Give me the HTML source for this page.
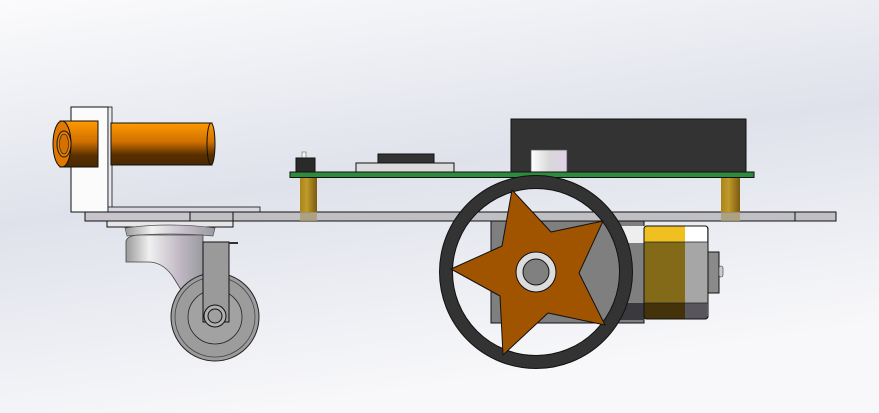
<!DOCTYPE html>
<html><head><meta charset="utf-8"><style>html,body{margin:0;padding:0;width:879px;height:413px;overflow:hidden}svg{display:block}</style></head>
<body>
<svg width="879" height="413" viewBox="0 0 879 413" xmlns="http://www.w3.org/2000/svg">
<defs>
<linearGradient id="bg" x1="0" y1="0" x2="0.3" y2="1">
<stop offset="0" stop-color="#fbfbfc"/><stop offset="0.5" stop-color="#dfe2eb"/><stop offset="1" stop-color="#f8f8fa"/></linearGradient>
<linearGradient id="org" x1="0" y1="0" x2="0" y2="1">
<stop offset="0" stop-color="#ff9a00"/><stop offset="0.45" stop-color="#d07000"/><stop offset="0.75" stop-color="#5a3000"/><stop offset="1" stop-color="#4a2800"/></linearGradient>
<linearGradient id="gold" x1="0" y1="0" x2="1" y2="0">
<stop offset="0" stop-color="#a8841a"/><stop offset="0.4" stop-color="#c09a2a"/><stop offset="1" stop-color="#7a5a10"/></linearGradient>
<linearGradient id="met" x1="0" y1="0" x2="1" y2="0">
<stop offset="0" stop-color="#9a9a9a"/><stop offset="0.3" stop-color="#f0f0f0"/><stop offset="0.7" stop-color="#c0b8c4"/><stop offset="1" stop-color="#9a9aa0"/></linearGradient>
<linearGradient id="wcyl" x1="0" y1="0" x2="1" y2="0">
<stop offset="0" stop-color="#ffffff"/><stop offset="0.5" stop-color="#d8d8d8"/><stop offset="1" stop-color="#e0d0e8"/></linearGradient>
</defs>
<rect width="879" height="413" fill="url(#bg)"/>

<rect x="71" y="107" width="37" height="105" fill="#fbfbfb" stroke="#111" stroke-width="1"/>
<rect x="108" y="107" width="4" height="105" fill="#e8e8ee" stroke="#111" stroke-width="0.8"/>
<rect x="108" y="207" width="152" height="5" fill="#d8d6de" stroke="#111" stroke-width="0.8"/>
<rect x="111" y="123" width="101" height="42" fill="url(#org)" stroke="#111"/>
<ellipse cx="211" cy="144" rx="4" ry="21" fill="url(#org)" stroke="#111"/>
<rect x="60" y="121" width="38" height="46" fill="url(#org)" stroke="#111"/>
<ellipse cx="62" cy="144" rx="9" ry="23" fill="#e07800" stroke="#111"/>
<ellipse cx="64" cy="144" rx="7" ry="13" fill="#e88400" stroke="#111"/>
<ellipse cx="64" cy="144" rx="4.5" ry="10" fill="#d87000" stroke="#222" stroke-width="0.7"/>

<rect x="85" y="212" width="751" height="9" fill="#c0c0c4" stroke="#111"/>
<line x1="190" y1="212" x2="190" y2="221" stroke="#111"/>
<line x1="233" y1="212" x2="233" y2="221" stroke="#111"/>
<line x1="795" y1="212" x2="795" y2="221" stroke="#111"/>
<rect x="85" y="212" width="105" height="9" fill="#c8c4cc" stroke="#111"/>

<rect x="300" y="177" width="17" height="35" fill="url(#gold)"/>
<rect x="300" y="212" width="17" height="9" fill="#a89870" opacity="0.8"/>
<rect x="721" y="177" width="19" height="35" fill="url(#gold)"/>
<rect x="721" y="212" width="19" height="9" fill="#a89870" opacity="0.8"/>

<rect x="107" y="221" width="126" height="6" fill="#e6e6e8" stroke="#111"/>
<path d="M125,228 Q170,222 215,228 L213,236 Q170,232 127,236 Z" fill="url(#met)" stroke="#555" stroke-width="0.7"/>
<path d="M126,241 Q128,235 140,235 L203,235 L203,320 Q190,305 175,280 Q165,263 150,262 L126,262 Z" fill="url(#met)" stroke="#444" stroke-width="0.8"/>
<circle cx="215" cy="317" r="44" fill="#9c9c9c" stroke="#222"/>
<circle cx="215" cy="317" r="40" fill="none" stroke="#444" stroke-width="0.8"/>
<circle cx="215" cy="317" r="27" fill="#a2a2a2" stroke="#222" stroke-width="0.8"/>
<rect x="203" y="242" width="26" height="80" fill="#9a9a9a" stroke="#111"/>
<line x1="229" y1="243" x2="238" y2="243" stroke="#333" stroke-width="2"/>
<circle cx="215" cy="316" r="11" fill="#b0b0b0" stroke="#111"/>
<circle cx="215" cy="316" r="7" fill="#a0a0a0" stroke="#111"/>

<rect x="511" y="119" width="235" height="54" fill="#333333" stroke="#111"/>
<rect x="531" y="150" width="36" height="23" fill="url(#wcyl)" stroke="#555" stroke-width="0.7"/>
<rect x="302" y="152" width="4" height="7" fill="#f4f4f4" stroke="#666" stroke-width="0.6"/>
<rect x="296" y="158" width="19" height="14" fill="#2a2a2a" stroke="#111"/>
<rect x="378" y="154" width="56" height="9" fill="#333" stroke="#111"/>
<rect x="356" y="163" width="98" height="9" fill="#dcdcdc" stroke="#111"/>
<rect x="290" y="172" width="464" height="5.5" fill="#2e8a3c" stroke="#111"/>

<rect x="491" y="221" width="153" height="102" fill="#7f7f7f" stroke="#111"/>
<rect x="614" y="226" width="30" height="17" fill="#eeeeee"/>
<rect x="614" y="303" width="30" height="17" fill="#3a3a3e"/>
<rect x="644" y="226" width="64" height="93" rx="3" fill="#a6a6a6" stroke="#111"/>
<rect x="644" y="226" width="41" height="16" fill="#f0c020"/>
<rect x="685" y="226" width="22" height="16" fill="#ffffff"/>
<rect x="644" y="242" width="41" height="61" fill="#826a18"/>
<rect x="644" y="303" width="41" height="16" fill="#44330a"/>
<rect x="685" y="303" width="22" height="16" fill="#58565c"/>
<rect x="644" y="226" width="64" height="93" rx="3" fill="none" stroke="#111"/>
<line x1="644" y1="242" x2="708" y2="242" stroke="#222" stroke-width="0.8"/>
<line x1="644" y1="303" x2="708" y2="303" stroke="#222" stroke-width="0.8"/>
<rect x="708" y="252" width="11" height="41" fill="#8a8a8a" stroke="#111"/>
<rect x="719" y="266" width="4" height="11" rx="2" fill="#cccccc" stroke="#333" stroke-width="0.6"/>

<circle cx="536" cy="272" r="90" fill="none" stroke="#333" stroke-width="13"/>
<circle cx="536" cy="272" r="96.5" fill="none" stroke="#111" stroke-width="1"/>
<circle cx="536" cy="272" r="83.5" fill="none" stroke="#111" stroke-width="1"/>
<polygon points="512,190 551,232 603,221 579,273 605,325 548,313 503,355 500,296 451,269 502,246" fill="#a05400" stroke="#111" stroke-width="1" stroke-linejoin="round"/>
<circle cx="536" cy="272" r="20" fill="#dcdcdc" stroke="#111"/>
<circle cx="536" cy="272" r="13" fill="#808080" stroke="#111"/>
</svg>
</body></html>
